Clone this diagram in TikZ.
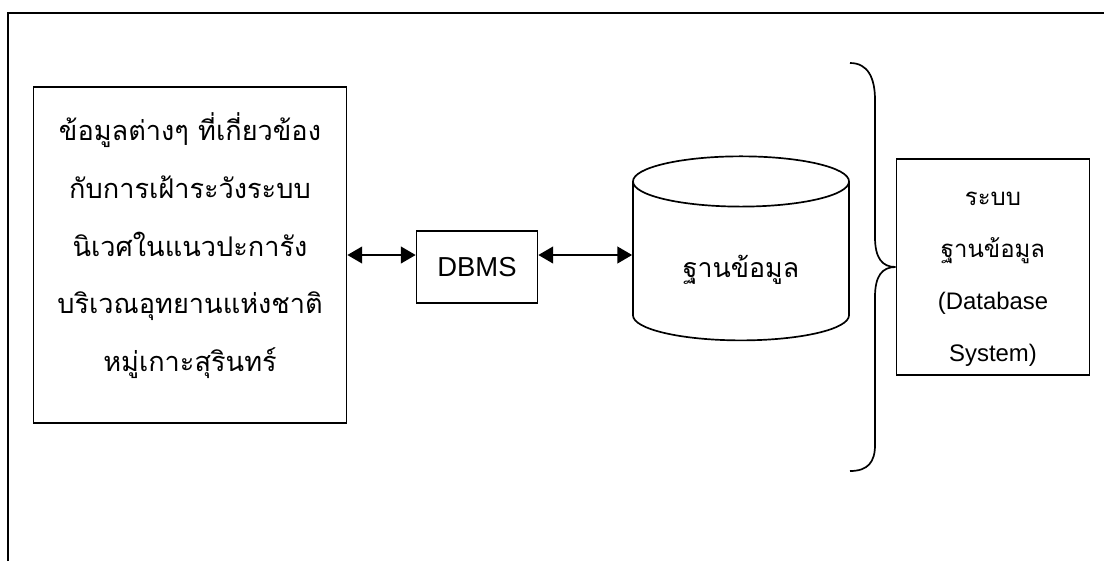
\documentclass[tikz,border=0pt]{standalone}
\usepackage{fontspec}
\setmainfont[Script=Thai]{Loma}
\newfontfamily\latinfont{Liberation Sans}
\usetikzlibrary{shapes.geometric,arrows.meta}

\begin{document}
\begin{tikzpicture}[x=0.025cm,y=-0.025cm,
    box/.style={draw,line width=1.2pt,align=center,inner sep=0pt},
    link/.style={{Triangle[length=0.37cm,width=0.42cm]}-{Triangle[length=0.37cm,width=0.42cm]},line width=1.2pt}]
    \useasboundingbox (0,0) rectangle (1104,561);
    % page frame (cut at right and bottom)
    \draw[line width=1.4pt] (8,561) -- (8,13) -- (1104,13);
    % data source
    \node[box,minimum width=7.825cm,minimum height=8.4cm,font=\fontsize{19.3}{41}\selectfont] (info) at (190,255)
        {ข้อมูลต่างๆ ที่เกี่ยวข้อง\\กับการเฝ้าระวังระบบ\\นิเวศในแนวปะการัง\\บริเวณอุทยานแห่งชาติ\\หมู่เกาะสุรินทร์\rule[-18pt]{0pt}{0pt}};
    \node[box,minimum width=3.025cm,minimum height=1.8cm,font=\latinfont\fontsize{19.5}{24}\selectfont] (dbms) at (477,267) {DBMS};
    \node[draw,line width=1.2pt,cylinder,shape border rotate=90,aspect=0.4,minimum width=5.4cm,minimum height=4.6cm,font=\fontsize{19}{22}\selectfont] (db) at (741,265)
        {\raisebox{-0.3cm}[0pt][0pt]{ฐานข้อมูล}};
    % database system
    \node[box,minimum width=4.825cm,minimum height=5.4cm,font=\fontsize{17}{37}\selectfont] (sys) at (993,267)
        {\rule{0pt}{27pt}ระบบ\\ฐานข้อมูล\\{\latinfont (Database}\\{\latinfont System)}};
    % links
    \draw[link] (info.east) -- (info.east -| dbms.west);
    \draw[link] (dbms.east |- info.east) -- (db.west |- info.east);
    % brace
    \coordinate (bt) at (850,63);
    \coordinate (bb) at (850,471);
    \draw[line width=1.2pt] (bt) .. controls (868,63) and (875,78) .. (875,100) -- (875,237)
        .. controls (875,258) and (882,267) .. (sys.west)
        .. controls (882,267) and (875,276) .. (875,297) -- (875,445)
        .. controls (875,462) and (868,471) .. (bb);
\end{tikzpicture}
\end{document}
